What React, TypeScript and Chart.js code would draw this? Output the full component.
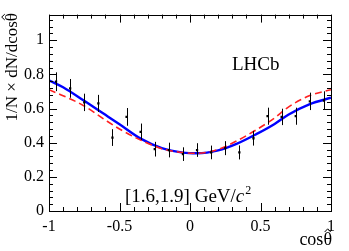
import React, { useEffect, useRef } from "react";
import { Chart, registerables } from "chart.js";

Chart.register(...registerables);

const binCenters = [-0.95, -0.85, -0.75, -0.65, -0.55, -0.45, -0.35, -0.25, -0.15, -0.05, 0.05, 0.15, 0.25, 0.35, 0.45, 0.55, 0.65, 0.75, 0.85, 0.95];
const dataValues = [0.757, 0.718, 0.636, 0.63, 0.43, 0.551, 0.464, 0.362, 0.357, 0.333, 0.357, 0.343, 0.368, 0.343, 0.426, 0.555, 0.551, 0.555, 0.642, 0.647];
const dataErrors = [0.055, 0.055, 0.051, 0.05, 0.049, 0.052, 0.048, 0.043, 0.043, 0.04, 0.04, 0.04, 0.041, 0.041, 0.043, 0.05, 0.048, 0.05, 0.051, 0.054];

const curveX = [-1, -0.9, -0.75, -0.6, -0.5, -0.35, -0.2, -0.05, 0.05, 0.2, 0.33, 0.47, 0.6, 0.7, 0.85, 1];
const blueCurve = [0.765, 0.725, 0.645, 0.563, 0.508, 0.424, 0.368, 0.342, 0.338, 0.355, 0.393, 0.45, 0.51, 0.565, 0.626, 0.663];
const redCurve = [0.71, 0.675, 0.615, 0.532, 0.48, 0.415, 0.365, 0.342, 0.338, 0.36, 0.41, 0.475, 0.545, 0.61, 0.676, 0.71];

const xTickValues = [-1, -0.5, 0, 0.5, 1];
const yTickValues = [0, 0.2, 0.4, 0.6, 0.8, 1];
const xTickLabels = ["-1", "-0.5", "0", "0.5", "1"];
const yTickLabels = ["0", "0.2", "0.4", "0.6", "0.8", "1"];

const SERIF = "'Liberation Serif', 'DejaVu Serif', serif";

// draws text ending with a hatted theta; (x,y) is the right end of the text on the baseline
function drawHatTheta(ctx: CanvasRenderingContext2D, prefix: string, x: number, y: number, size: number) {
  ctx.font = `${size}px ${SERIF}`;
  ctx.textAlign = "left";
  ctx.textBaseline = "alphabetic";
  const wp = ctx.measureText(prefix).width;
  const wt = ctx.measureText("\u03b8").width;
  const x0 = x - wp - wt;
  ctx.fillText(prefix + "\u03b8", x0, y);
  const cx = x0 + wp + wt / 2;
  const capTop = y - size * 0.7;
  ctx.beginPath();
  ctx.lineWidth = 1;
  ctx.moveTo(cx - size * 0.17, capTop - size * 0.02);
  ctx.lineTo(cx, capTop - size * 0.2);
  ctx.lineTo(cx + size * 0.17, capTop - size * 0.02);
  ctx.stroke();
}

const framePlugin = {
  id: "framePlugin",
  afterDatasetsDraw(chart: any) {
    const { ctx, scales } = chart;
    const xs = scales.x;
    const ys = scales.y;
    ctx.save();
    ctx.strokeStyle = "#000";
    ctx.lineWidth = 1;
    binCenters.forEach((c, i) => {
      const px = Math.round(xs.getPixelForValue(c)) + 0.5;
      ctx.beginPath();
      ctx.moveTo(px, ys.getPixelForValue(dataValues[i] - dataErrors[i]));
      ctx.lineTo(px, ys.getPixelForValue(dataValues[i] + dataErrors[i]));
      ctx.stroke();
    });
    ctx.restore();
  },
  afterDraw(chart: any) {
    const { ctx, chartArea, scales } = chart;
    const xs = scales.x;
    const ys = scales.y;
    const { left, right, top, bottom } = chartArea;
    ctx.save();
    ctx.strokeStyle = "#000";
    ctx.lineWidth = 1;
    ctx.strokeRect(Math.round(left) + 0.5, Math.round(top) + 0.5, Math.round(right - left), Math.round(bottom - top));
    ctx.beginPath();
    for (let k = -10; k <= 10; k++) {
      const v = k / 10;
      const major = k % 5 === 0;
      const len = major ? 8 : 4;
      const px = Math.round(xs.getPixelForValue(v)) + 0.5;
      ctx.moveTo(px, bottom);
      ctx.lineTo(px, bottom - len);
      ctx.moveTo(px, top);
      ctx.lineTo(px, top + len);
    }
    for (let k = 0; k <= 28; k++) {
      const v = k * 0.04;
      if (v > ys.max) break;
      const major = k % 5 === 0;
      const len = major ? 8 : 4;
      const py = Math.round(ys.getPixelForValue(v)) + 0.5;
      ctx.moveTo(left, py);
      ctx.lineTo(left + len, py);
      ctx.moveTo(right, py);
      ctx.lineTo(right - len, py);
    }
    ctx.stroke();

    ctx.fillStyle = "#000";
    ctx.strokeStyle = "#000";
    // y title
    ctx.save();
    ctx.translate(17, 13);
    ctx.rotate(-Math.PI / 2);
    drawHatTheta(ctx, "1/N \u00d7 dN/dcos", 0, 0, 17);
    ctx.restore();

    // x title
    drawHatTheta(ctx, "cos", 332, 245, 18);

    // LHCb
    ctx.font = `19px ${SERIF}`;
    ctx.textAlign = "left";
    ctx.fillText("LHCb", 232, 70);

    // range label
    ctx.font = `19px ${SERIF}`;
    const main = "[1.6,1.9] GeV/";
    ctx.fillText(main, 125, 202);
    const w1 = ctx.measureText(main).width;
    ctx.font = `italic 19px ${SERIF}`;
    ctx.fillText("c", 125 + w1, 202);
    const w2 = ctx.measureText("c").width;
    ctx.font = `12px ${SERIF}`;
    ctx.fillText("2", 125 + w1 + w2 + 1, 194);
    ctx.restore();
  },
};

export default function App() {
  const ref = useRef<HTMLCanvasElement | null>(null);
  useEffect(() => {
    if (!ref.current) return;
    const chart = new Chart(ref.current, {
      type: "scatter",
      data: {
        datasets: [
          {
            label: "data",
            data: binCenters.map((x, i) => ({ x, y: dataValues[i] })),
            pointStyle: "rect",
            pointRadius: 1.6,
            backgroundColor: "#000",
            borderColor: "#000",
            borderWidth: 0,
            showLine: false,
            order: 0,
          },
          {
            label: "red",
            data: curveX.map((x, i) => ({ x, y: redCurve[i] })),
            showLine: true,
            pointRadius: 0,
            borderColor: "#ff2020",
            borderWidth: 1.6,
            borderDash: [7, 4],
            cubicInterpolationMode: "monotone",
            order: 1,
          },
          {
            label: "blue",
            data: curveX.map((x, i) => ({ x, y: blueCurve[i] })),
            showLine: true,
            pointRadius: 0,
            borderColor: "#0000ff",
            borderWidth: 2.4,
            cubicInterpolationMode: "monotone",
            order: 2,
          },
        ],
      },
      options: {
        animation: false,
        responsive: false,
        maintainAspectRatio: false,
        layout: { padding: { left: 0, right: 18, top: 12, bottom: 0 } },
        plugins: { legend: { display: false }, tooltip: { enabled: false } },
        scales: {
          x: {
            type: "linear",
            min: -1,
            max: 1,
            grid: { display: false, drawTicks: false },
            border: { display: false },
            afterFit: (s: any) => {
              s.height = 40;
            },
            afterBuildTicks: (s: any) => {
              s.ticks = xTickValues.map((v) => ({ value: v }));
            },
            ticks: {
              padding: 6,
              color: "#000",
              font: { family: SERIF, size: 16 },
              maxRotation: 0,
              callback: (v: any) => {
                const i = xTickValues.indexOf(Number(v));
                return i >= 0 ? xTickLabels[i] : "";
              },
            },
          },
          y: {
            type: "linear",
            min: 0,
            max: 1.15,
            grid: { display: false, drawTicks: false },
            border: { display: false },
            afterFit: (s: any) => {
              s.width = 49;
            },
            afterBuildTicks: (s: any) => {
              s.ticks = yTickValues.map((v) => ({ value: v }));
            },
            ticks: {
              padding: 5,
              color: "#000",
              font: { family: SERIF, size: 16 },
              callback: (v: any) => {
                const i = yTickValues.findIndex((t) => Math.abs(t - Number(v)) < 1e-9);
                return i >= 0 ? yTickLabels[i] : "";
              },
            },
          },
        },
      },
      plugins: [framePlugin],
    });
    return () => chart.destroy();
  }, []);
  return (
    <div style={{ position: "fixed", left: 0, top: 0, width: 349, height: 251, background: "#fff" }}>
      <canvas ref={ref} width={349} height={251} style={{ width: 349, height: 251, display: "block" }} />
    </div>
  );
}
